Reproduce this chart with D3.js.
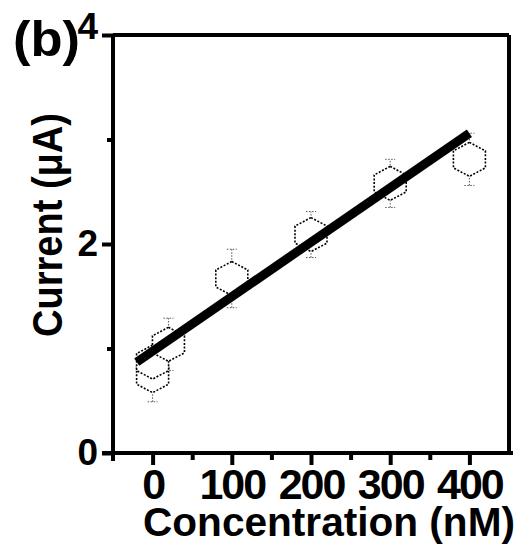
<!DOCTYPE html>
<html>
<head>
<meta charset="utf-8">
<script src="https://cdn.jsdelivr.net/npm/d3@7"></script>
<style>
  body { margin: 0; background: #fff; }
  text { font-family: "Liberation Sans", Arial, sans-serif; font-weight: bold; fill: #000; }
</style>
</head>
<body>
<div id="chart"></div>
<script>
// data
const concentration = [0, 0, 20, 100, 200, 300, 400];
const current = [0.74, 0.87, 1.04, 1.67, 2.09, 2.58, 2.81];
const errors = [0.25, 0.12, 0.25, 0.28, 0.22, 0.23, 0.25];
const fitX = [-20, 400];
const fitY = [0.87, 3.06];
const yMajor = [0, 2, 4];
const yMinor = [1, 3];
const xMajor = [0, 100, 200, 300, 400];
const xMinor = [50, 150, 250, 350];

const W = 530, H = 550;
const margin = { top: 35, right: 21, bottom: 97, left: 113 };

const svg = d3.select("#chart")
  .append("svg")
  .attr("width", W)
  .attr("height", H);

const x = d3.scaleLinear().domain([-50, 450]).range([margin.left, W - margin.right]);
const y = d3.scaleLinear().domain([0, 4]).range([H - margin.bottom, margin.top]);

const points = concentration.map((c, i) => ({ c: c, v: current[i], e: errors[i] }));

// error bars (thin dotted)
const eb = svg.append("g").attr("stroke", "#555").attr("stroke-width", 1)
  .attr("stroke-dasharray", "1.5,1.5").attr("fill", "none");
eb.selectAll("line.bar").data(points).join("line")
  .attr("class", "bar")
  .attr("x1", d => x(d.c)).attr("x2", d => x(d.c))
  .attr("y1", d => y(d.v - d.e)).attr("y2", d => y(d.v + d.e));
eb.selectAll("line.capTop").data(points).join("line")
  .attr("class", "capTop")
  .attr("x1", d => x(d.c) - 5).attr("x2", d => x(d.c) + 5)
  .attr("y1", d => y(d.v + d.e)).attr("y2", d => y(d.v + d.e));
eb.selectAll("line.capBot").data(points).join("line")
  .attr("class", "capBot")
  .attr("x1", d => x(d.c) - 5).attr("x2", d => x(d.c) + 5)
  .attr("y1", d => y(d.v - d.e)).attr("y2", d => y(d.v - d.e));

// hexagon markers
const hw = 16, hh = 17;
const hex = `M0,${-hh}L${hw},${-hh / 2}L${hw},${hh / 2}L0,${hh}L${-hw},${hh / 2}L${-hw},${-hh / 2}Z`;
svg.append("g").selectAll("path").data(points).join("path")
  .attr("d", hex)
  .attr("transform", d => `translate(${x(d.c)},${y(d.v)})`)
  .attr("fill", "#fff")
  .attr("stroke", "#000")
  .attr("stroke-width", 1.6)
  .attr("stroke-dasharray", "2,1.6");

// fitted line
svg.append("path")
  .datum(fitX.map((c, i) => [c, fitY[i]]))
  .attr("d", d3.line().x(d => x(d[0])).y(d => y(d[1])))
  .attr("fill", "none")
  .attr("stroke", "#000")
  .attr("stroke-width", 9);

// axes
const yAxis = svg.append("g").attr("transform", `translate(${x(-50)},0)`)
  .call(d3.axisLeft(y).tickValues(yMajor).tickSize(11).tickPadding(4).tickFormat(d3.format("d")));
svg.append("g").attr("transform", `translate(${x(-50)},0)`)
  .call(d3.axisLeft(y).tickValues(yMinor).tickSize(6).tickFormat(""))
  .select(".domain").remove();

const xAxis = svg.append("g").attr("transform", `translate(0,${y(0)})`)
  .call(d3.axisBottom(x).tickValues(xMajor).tickSize(12).tickPadding(3).tickFormat(d3.format("d")));
svg.append("g").attr("transform", `translate(0,${y(0)})`)
  .call(d3.axisBottom(x).tickValues(xMinor).tickSize(7).tickFormat(""))
  .select(".domain").remove();

svg.selectAll(".tick line").attr("stroke", "#000").attr("stroke-width", 4);
yAxis.select(".domain").remove();
xAxis.select(".domain").remove();
yAxis.selectAll("text").style("font-size", "37px");
yAxis.selectAll(".tick").filter(d => d === 4).select("text").attr("dy", "0.1em");
xAxis.selectAll("text").style("font-size", "43px").attr("letter-spacing", "-2");

// axis lines and frame
const frame = svg.append("g").attr("stroke", "#000").attr("stroke-width", 4).attr("fill", "none");
frame.append("line").attr("x1", x(-50)).attr("x2", x(-50)).attr("y1", y(4)).attr("y2", y(0) + 8);
frame.append("line").attr("x1", x(-50) - 11).attr("x2", x(450) + 4).attr("y1", y(0)).attr("y2", y(0));
frame.append("line").attr("x1", x(-50)).attr("x2", x(450)).attr("y1", y(4)).attr("y2", y(4));
frame.append("line").attr("x1", x(450)).attr("x2", x(450)).attr("y1", y(4)).attr("y2", y(0));

// titles
svg.append("text")
  .attr("x", 143).attr("y", 536)
  .attr("textLength", 372).attr("lengthAdjust", "spacingAndGlyphs")
  .style("font-size", "41px")
  .text("Concentration  (nM)");

svg.append("text")
  .attr("transform", "translate(62,337) rotate(-90)")
  .attr("textLength", 224).attr("lengthAdjust", "spacingAndGlyphs")
  .style("font-size", "43px")
  .text("Current (μA)");

svg.append("text")
  .attr("x", 13).attr("y", 56)
  .attr("textLength", 67).attr("lengthAdjust", "spacingAndGlyphs")
  .style("font-size", "50px")
  .text("(b)");
</script>
</body>
</html>
